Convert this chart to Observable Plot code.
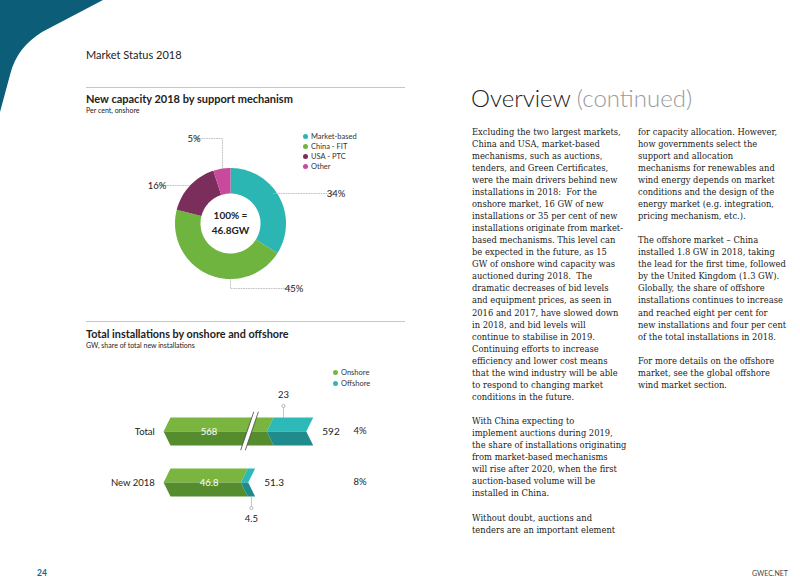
<!DOCTYPE html>
<html><head><meta charset="utf-8">
<script src="https://cdn.jsdelivr.net/npm/d3@7"></script>
<script src="https://cdn.jsdelivr.net/npm/@observablehq/plot@0.6"></script>
<style>
body{margin:0;background:#fff}
#page{position:relative;width:800px;height:581px;overflow:hidden;font-family:Lato,"Open Sans",sans-serif;color:#222}
.abs{position:absolute;white-space:pre}
.rule{position:absolute;height:1px;background:#b8ccd5}
.lg{position:absolute;font-size:7.5px;line-height:10px;color:#333}
.lg i{display:inline-block;width:5px;height:5px;border-radius:50%;margin-right:3px;vertical-align:0px}
.body{position:absolute;font-family:"DejaVu Serif",serif;font-size:8.35px;line-height:12.06px;color:#222;white-space:pre}
svg{overflow:visible}
</style></head><body><div id="page">
<svg class="abs" style="left:0;top:0" width="120" height="120"><path d="M0,0 L103,0 L42,32 C26,42 15,55 10,75 L0,112 Z" fill="#0b5d78"/></svg>
<div class="abs" style="left:86px;top:48px;font-size:11px;line-height:14px">Market Status 2018</div>
<div class="rule" style="left:86px;top:87px;width:319px"></div>
<div class="abs" style="left:86px;top:91.5px;font-size:11px;line-height:13px;font-weight:700">New capacity 2018 by support mechanism</div>
<div class="abs" style="left:86px;top:105.5px;font-size:7px;line-height:9px">Per cent, onshore</div>
<div id="donut" class="abs" style="left:110px;top:123px"></div>
<div id="lg1"></div>
<div class="rule" style="left:86px;top:321px;width:319px"></div>
<div class="abs" style="left:86px;top:326.5px;font-size:10.8px;line-height:13px;font-weight:700">Total installations by onshore and offshore</div>
<div class="abs" style="left:86px;top:341px;font-size:7px;line-height:9px">GW, share of total new installations</div>
<div id="lg2"></div>
<div id="bars" class="abs" style="left:90px;top:380px"></div>
<div class="abs" style="left:471px;top:84px;font-size:24px;line-height:28px;font-weight:300">Overview <span style="color:#9a9a9a">(continued)</span></div>
<div class="body" style="left:472px;top:125.6px">Excluding the two largest markets,
China and USA, market-based
mechanisms, such as auctions,
tenders, and Green Certificates,
were the main drivers behind new
installations in 2018:  For the
onshore market, 16 GW of new
installations or 35 per cent of new
installations originate from market-
based mechanisms. This level can
be expected in the future, as 15
GW of onshore wind capacity was
auctioned during 2018.  The
dramatic decreases of bid levels
and equipment prices, as seen in
2016 and 2017, have slowed down
in 2018, and bid levels will
continue to stabilise in 2019.
Continuing efforts to increase
efficiency and lower cost means
that the wind industry will be able
to respond to changing market
conditions in the future.

With China expecting to
implement auctions during 2019,
the share of installations originating
from market-based mechanisms
will rise after 2020, when the first
auction-based volume will be
installed in China.

Without doubt, auctions and
tenders are an important element</div>
<div class="body" style="left:638px;top:125.6px">for capacity allocation. However,
how governments select the
support and allocation
mechanisms for renewables and
wind energy depends on market
conditions and the design of the
energy market (e.g. integration,
pricing mechanism, etc.).

The offshore market – China
installed 1.8 GW in 2018, taking
the lead for the first time, followed
by the United Kingdom (1.3 GW).
Globally, the share of offshore
installations continues to increase
and reached eight per cent for
new installations and four per cent
of the total installations in 2018.

For more details on the offshore
market, see the global offshore
wind market section.</div>
<div class="abs" style="left:37px;top:567px;font-size:8.5px;line-height:12px;font-weight:700;color:#0b6a8a">24</div>
<div class="abs" style="right:12px;top:568px;font-size:7px;line-height:10px;color:#444">GWEC.NET</div>
</div>
<script>
// ---------- data ----------
const mechanisms = ["Market-based", "China - FIT", "USA - PTC", "Other"];
const mechanismShares = [34, 45, 16, 5];
const mechanismColors = ["#2bb6b4", "#6fb43f", "#7b2d5c", "#c9499c"];
const donutCenterText = ["100% =", "46.8GW"];

const rows = ["Total", "New 2018"];
const onshoreGW = [568, 46.8];
const offshoreGW = [23, 4.5];
const totalGW = [592, 51.3];
const offshoreShare = ["4%", "8%"];
const seriesNames = ["Onshore", "Offshore"];
const seriesLight = ["#79b53f", "#2cb9b7"];
const seriesDark = ["#548c2e", "#1f8b8c"];

// ---------- donut ----------
const R_OUT = 55.5, R_IN = 30;
const sum = d3.sum(mechanismShares);
const slicePts = [];
let acc = 0;
mechanisms.forEach((m, i) => {
  const a0 = acc / sum * 360, a1 = (acc + mechanismShares[i]) / sum * 360;
  acc += mechanismShares[i];
  const steps = Math.max(2, Math.ceil((a1 - a0) / 2));
  for (let k = 0; k <= steps; k++) {
    const a = (a0 + (a1 - a0) * k / steps) * Math.PI / 180;
    slicePts.push({id: m, color: mechanismColors[i], x: R_OUT * Math.sin(a), y: R_OUT * Math.cos(a)});
  }
  for (let k = steps; k >= 0; k--) {
    const a = (a0 + (a1 - a0) * k / steps) * Math.PI / 180;
    slicePts.push({id: m, color: mechanismColors[i], x: R_IN * Math.sin(a), y: R_IN * Math.cos(a)});
  }
});
// leader routes (layout, relative to centre, y up)
const leaderRoutes = [
  [[43, 30], [102, 30]],
  [[0, -R_OUT], [0, -65], [60, -65]],
  [[-42, 38], [-70, 38]],
  [[-8, 55], [-8, 85], [-33, 85]]
];
const leaderPts = leaderRoutes.flatMap((r, i) => r.map(([x, y]) => ({id: i, x, y})));
const leaderEnds = leaderRoutes.map((r, i) => {
  const [x, y] = r[r.length - 1];
  const right = x > 0;
  return {x, y, lx: x + (right ? 3.5 : -3.5), anchor: right ? "start" : "end", text: mechanismShares[i] + "%"};
});

const donut = Plot.plot({
  width: 260, height: 200, margin: 0,
  x: {domain: [-120, 140], axis: null},
  y: {domain: [-100, 100], axis: null},
  color: {type: "identity"},
  marks: [
    Plot.line(slicePts, {x: "x", y: "y", z: "id", fill: "color", stroke: "none", curve: "linear-closed"}),
    Plot.line(leaderPts, {x: "x", y: "y", z: "id", stroke: "#b5b5b5", strokeWidth: 0.8, strokeDasharray: "1,1.5"}),
    Plot.dot(leaderEnds, {x: "x", y: "y", r: 1.6, stroke: "#a8a8a8", fill: "white", strokeWidth: 0.8}),
    Plot.text(leaderEnds, {x: "lx", y: "y", text: "text", textAnchor: "anchor", fontSize: 9.5, fill: "#222"}),
    Plot.text(donutCenterText, {x: 0, y: (d, i) => i === 0 ? 8 : -7, text: d => d, fontSize: 10, fontWeight: 700, fill: "#222"})
  ],
  style: {fontFamily: "Lato, 'Open Sans', sans-serif", background: "transparent"}
});
document.getElementById("donut").appendChild(donut);

// legends
document.getElementById("lg1").innerHTML = mechanisms.map((m, i) =>
  `<div class="lg" style="left:303px;top:${132 + i * 10}px"><i style="background:${mechanismColors[i]}"></i>${m}</div>`).join("");
document.getElementById("lg2").innerHTML = seriesNames.map((m, i) =>
  `<div class="lg" style="left:333px;top:${368 + i * 11}px"><i style="background:${seriesLight[i]}"></i>${m}</div>`).join("");

// ---------- bars ----------
const BREAK_CUT = 505.5;              // GW removed from the Total bar by the axis break
const shown = v => v > 100 ? v - BREAK_CUT : v;
const H = 0.2745, N = 4.2;            // half bar height (row units), chevron depth (GW)
const barPolys = [];
rows.forEach((r, i) => {
  const segs = [[0, shown(onshoreGW[i])], [shown(onshoreGW[i]), shown(totalGW[i])]];
  segs.forEach(([a, b], s) => {
    const top = [[a, i - H], [b, i - H], [b - N, i], [a - N, i]];
    const bot = [[a - N, i], [b - N, i], [b, i + H], [a, i + H]];
    top.forEach(([x, y]) => barPolys.push({id: `${i}-${s}-t`, x, y, c: seriesLight[s]}));
    bot.forEach(([x, y]) => barPolys.push({id: `${i}-${s}-b`, x, y, c: seriesDark[s]}));
  });
});
const BREAK_AT = 48;
const breakPoly = [[BREAK_AT + 2.4, -0.38], [BREAK_AT + 5.2, -0.38], [BREAK_AT - 2.6, 0.36], [BREAK_AT - 5.4, 0.36]].map(([x, y]) => ({x, y}));
const breakLines = [
  {id: 0, x: BREAK_AT + 2.4, y: -0.38}, {id: 0, x: BREAK_AT - 5.4, y: 0.36},
  {id: 1, x: BREAK_AT + 5.2, y: -0.38}, {id: 1, x: BREAK_AT - 2.6, y: 0.36}
];
const offLabelSide = [-1, 1];
const offLabels = rows.map((r, i) => ({
  x: i === 0 ? shown(onshoreGW[i]) + 6 : (onshoreGW[i] + totalGW[i]) / 2,
  y0: i + offLabelSide[i] * H, y1: i + offLabelSide[i] * 0.5, yt: i + offLabelSide[i] * 0.71,
  text: String(offshoreGW[i])
}));
const offLeader = offLabels.flatMap((d, i) => [{id: i, x: d.x, y: d.y0}, {id: i, x: d.x, y: d.y1}]);

const bars = Plot.plot({
  width: 300, height: 150, margin: 0,
  x: {domain: [-48.485, 133.333], axis: null},
  y: {domain: [-1, 1.941], range: [0, 150], axis: null},
  color: {type: "identity"},
  marks: [
    Plot.line(barPolys, {x: "x", y: "y", z: "id", fill: "c", stroke: "none", curve: "linear-closed"}),
    Plot.line(breakPoly, {x: "x", y: "y", fill: "white", stroke: "none", curve: "linear-closed"}),
    Plot.line(breakLines, {x: "x", y: "y", z: "id", stroke: "#444", strokeWidth: 0.8}),
    Plot.line(offLeader, {x: "x", y: "y", z: "id", stroke: "#b5b5b5", strokeWidth: 0.8}),
    Plot.dot(offLabels, {x: "x", y: "y1", r: 1.6, stroke: "#a8a8a8", fill: "white", strokeWidth: 0.8}),
    Plot.text(offLabels, {x: "x", y: "yt", text: "text", fontSize: 9.5, fill: "#222"}),
    Plot.text(rows, {x: -9.5, y: (d, i) => i, text: d => d, textAnchor: "end", fontSize: 9.5, fill: "#222"}),
    Plot.text(onshoreGW, {x: onshoreGW[1] / 2, y: (d, i) => i, text: d => String(d), fontSize: 9.5, fill: "white"}),
    Plot.text(totalGW, {x: (d, i) => shown(d) + 5.5, y: (d, i) => i, text: d => String(d), textAnchor: "start", fontSize: 10, fill: "#222"}),
    Plot.text(offshoreShare, {x: 110.9, y: (d, i) => i - 0.02, text: d => d, textAnchor: "start", fontSize: 9.5, fill: "#222"})
  ],
  style: {fontFamily: "Lato, 'Open Sans', sans-serif", background: "transparent"}
});
document.getElementById("bars").appendChild(bars);
</script>
</body></html>
